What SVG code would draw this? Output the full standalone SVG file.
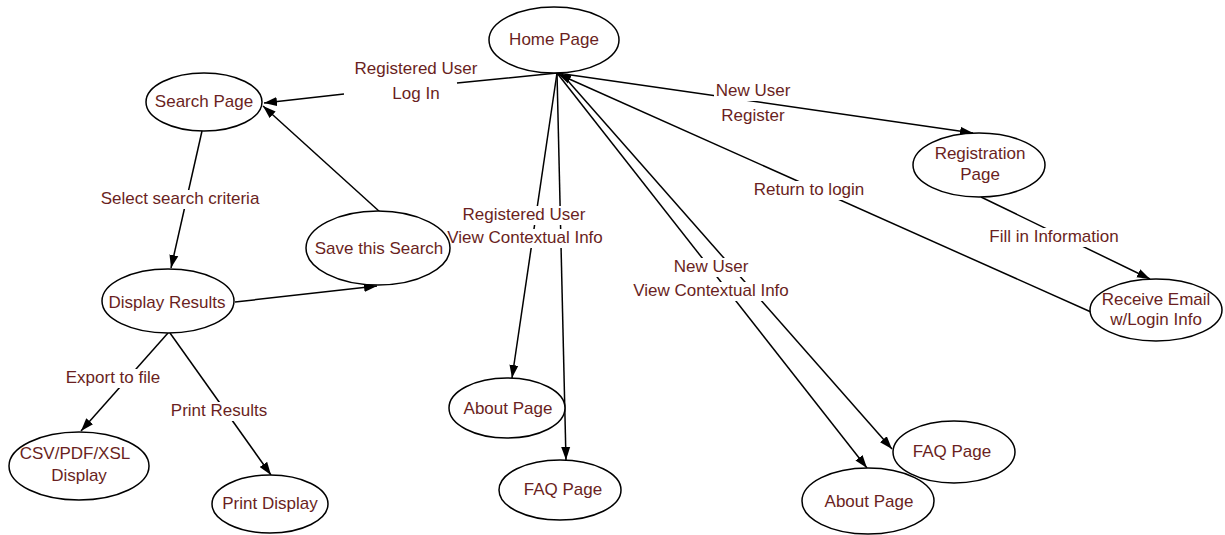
<svg xmlns="http://www.w3.org/2000/svg" width="1225" height="535" viewBox="0 0 1225 535">
<style>
  .bg{fill:#ffffff}
  .edge{fill:none;stroke:#000;stroke-width:1.5}
  .node ellipse{fill:#fff;stroke:#000;stroke-width:1.5}
  text{font-family:"Liberation Sans",Arial,sans-serif;font-size:17px;fill:#6a1f22;text-anchor:middle}
  .lbl{fill:#fff;stroke:none}
</style>
<defs>
  <marker id="arr" markerUnits="userSpaceOnUse" markerWidth="14" markerHeight="10" refX="13" refY="5" orient="auto">
    <path d="M0,0.5 L13,5 L0,9.5 z" fill="#000"/>
  </marker>
</defs>
<rect class="bg" x="0" y="0" width="1225" height="535"/>
<g id="connectors">
  <path class="edge" d="M557,73 L457,83 M344,94 L264,103" marker-end="url(#arr)"/>
  <path class="edge" d="M557,73 L973,133" marker-end="url(#arr)"/>
  <path class="edge" d="M1091,312 L558,74" marker-end="url(#arr)"/>
  <path class="edge" d="M981,197 L1150,279" marker-end="url(#arr)"/>
  <path class="edge" d="M557,73 L512,378" marker-end="url(#arr)"/>
  <path class="edge" d="M557,73 L566,460" marker-end="url(#arr)"/>
  <path class="edge" d="M557,73 L867,468" marker-end="url(#arr)"/>
  <path class="edge" d="M561,73 L892,449" marker-end="url(#arr)"/>
  <path class="edge" d="M202,131 L171,268" marker-end="url(#arr)"/>
  <path class="edge" d="M380,212 L263,106" marker-end="url(#arr)"/>
  <path class="edge" d="M235,302 L377,286" marker-end="url(#arr)"/>
  <path class="edge" d="M168,333 L81,431" marker-end="url(#arr)"/>
  <path class="edge" d="M170,333 L271,475" marker-end="url(#arr)"/>
  <g id="labels">
    <rect class="lbl" x="353" y="60" width="126" height="19"/>
    <text x="416" y="74">Registered User</text>
    <rect class="lbl" x="391" y="85" width="50" height="19"/>
    <text x="416" y="99">Log In</text>

    <rect class="lbl" x="714" y="82" width="78" height="19"/>
    <text x="753" y="96">New User</text>
    <rect class="lbl" x="720" y="107" width="66" height="19"/>
    <text x="753" y="121">Register</text>

    <rect class="lbl" x="753" y="181" width="113" height="19"/>
    <text x="809" y="195">Return to login</text>

    <rect class="lbl" x="989" y="228" width="131" height="19"/>
    <text x="1054" y="242">Fill in Information</text>

    <rect class="lbl" x="461" y="206" width="126" height="19"/>
    <text x="524" y="220">Registered User</text>
    <rect class="lbl" x="446" y="229" width="159" height="19"/>
    <text x="525" y="243">View Contextual Info</text>

    <rect class="lbl" x="673" y="258" width="77" height="19"/>
    <text x="711" y="272">New User</text>
    <rect class="lbl" x="632" y="282" width="159" height="19"/>
    <text x="711" y="296">View Contextual Info</text>

    <rect class="lbl" x="100" y="190" width="161" height="19"/>
    <text x="180" y="204">Select search criteria</text>

    <rect class="lbl" x="65" y="369" width="97" height="19"/>
    <text x="113" y="383">Export to file</text>

    <rect class="lbl" x="170" y="402" width="99" height="19"/>
    <text x="219" y="416">Print Results</text>
  </g>
</g>
<g id="n-home" class="node"><ellipse cx="554" cy="40" rx="65" ry="33"/><text x="554" y="45">Home Page</text></g>
<g id="n-search" class="node"><ellipse cx="204" cy="102" rx="58" ry="29"/><text x="204" y="107">Search Page</text></g>
<g id="n-registration" class="node"><ellipse cx="979" cy="165" rx="66" ry="32"/><text x="980" y="159">Registration</text><text x="980" y="180">Page</text></g>
<g id="n-receive" class="node"><ellipse cx="1156" cy="310" rx="66" ry="31"/><text x="1156" y="305">Receive Email</text><text x="1156" y="325">w/Login Info</text></g>
<g id="n-save" class="node"><ellipse cx="378" cy="248" rx="72" ry="37"/><text x="379" y="254">Save this Search</text></g>
<g id="n-display" class="node"><ellipse cx="168" cy="301" rx="66" ry="32"/><text x="167" y="308">Display Results</text></g>
<g id="n-csv" class="node"><ellipse cx="79" cy="466" rx="70" ry="34"/><text x="75" y="459">CSV/PDF/XSL</text><text x="79" y="481">Display</text></g>
<g id="n-print" class="node"><ellipse cx="270" cy="504" rx="58" ry="29"/><text x="270" y="509">Print Display</text></g>
<g id="n-about-reg" class="node"><ellipse cx="507" cy="408" rx="58" ry="30"/><text x="508" y="414">About Page</text></g>
<g id="n-faq-reg" class="node"><ellipse cx="560" cy="490" rx="61" ry="30"/><text x="563" y="495">FAQ Page</text></g>
<g id="n-about-new" class="node"><ellipse cx="868" cy="501" rx="66" ry="33"/><text x="869" y="507">About Page</text></g>
<g id="n-faq-new" class="node"><ellipse cx="954" cy="452" rx="61" ry="31"/><text x="952" y="457">FAQ Page</text></g>
</svg>
